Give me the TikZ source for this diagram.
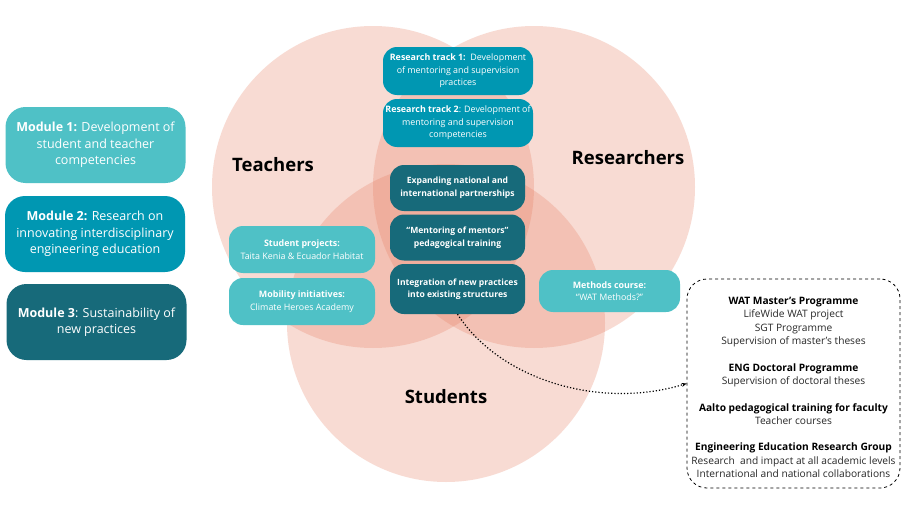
\documentclass[tikz,border=0pt]{standalone}
\usepackage{fontspec}
\setmainfont{Open Sans}
\usetikzlibrary{arrows.meta}
\definecolor{tealA}{HTML}{4FC1C6}
\definecolor{tealB}{HTML}{0097B2}
\definecolor{tealC}{HTML}{176A7A}
\definecolor{venn}{RGB}{232,128,100}
\definecolor{bodytext}{RGB}{40,40,40}
\begin{document}
\begin{tikzpicture}[x=1pt,y=-1pt,
  box/.style={rounded corners=14pt, text=white, align=center, inner sep=0pt},
  modbox/.style={box, rounded corners=20pt, minimum width=180pt, minimum height=76pt, font=\fontsize{12.5}{16.5}\selectfont},
  trackbox/.style={box, fill=tealB, minimum width=150pt, minimum height=48pt, font=\fontsize{8.9}{12.5}\selectfont},
  corebox/.style={box, fill=tealC, minimum width=135pt, minimum height=46pt, font=\bfseries\fontsize{8.6}{12.5}\selectfont},
  sidebox/.style={box, fill=tealA, minimum width=146pt, minimum height=47pt, font=\fontsize{8.9}{12.5}\selectfont},
  circlelabel/.style={font=\bfseries\fontsize{18.5}{20}\selectfont, text=black, inner sep=0pt},
  vennfill/.style={fill=venn, opacity=0.28}
]
\useasboundingbox (0,0) rectangle (914,514);
\fill[white] (0,0) rectangle (914,514);

% Venn circles
\fill[vennfill] (373,187) circle (161pt);
\fill[vennfill] (534,187) circle (161pt);
\fill[vennfill] (446,323) circle (159pt);

% circle labels
\node[circlelabel] (tlab) at (273,165) {Teachers};
\node[circlelabel] (rlab) at (628,158) {Researchers};
\node[circlelabel] (slab) at (446,397) {Students};

% Modules
\node[modbox, fill=tealA] (m1) at (95.5,145) {\textbf{Module 1:} Development of\\ student and teacher\\ competencies};
\node[modbox, fill=tealB] (m2) at (95,234) {\textbf{Module 2:} Research on\\ innovating interdisciplinary\\ engineering education};
\node[modbox, fill=tealC] (m3) at (96.5,322) {\textbf{Module 3}: Sustainability of\\ new practices};

% Research tracks
\node[trackbox] (rt1) at (458,71) {\textbf{Research track 1:}\ \ Development\\ of mentoring and supervision\\ practices};
\node[trackbox] (rt2) at (458,123) {\textbf{Research track 2}: Development of\\ mentoring and supervision\\ competencies};

% Core boxes
\node[corebox] (exp) at (457.5,188) {Expanding national and\\ international partnerships};
\node[corebox] (mom) at (457.5,237.5) {“Mentoring of mentors”\\ pedagogical training};
\node[corebox, minimum height=50pt] (int) at (457.5,289) {Integration of new practices\\ into existing structures};

% Side boxes
\node[sidebox] (sp) at (302,249.5) {\textbf{Student projects:}\\ Taita Kenia \& Ecuador Habitat};
\node[sidebox] (mi) at (302,301.5) {\textbf{Mobility initiatives:}\\ Climate Heroes Academy};
\node[sidebox, minimum width=141pt, minimum height=42pt] (mc) at (609.5,291) {\textbf{Methods course:}\\ “WAT Methods?”};

% Dashed box
\node[draw=black, dashed, line width=0.8pt, rounded corners=20pt, minimum width=213pt, minimum height=209pt, inner sep=0pt] (db) at (793.5,383.5) {};
\node[align=center, text=bodytext, inner sep=0pt, font=\fontsize{10.2}{13.3}\selectfont] (dbtext) at ([yshift=-4pt]db.center)
{\textcolor{black}{\textbf{WAT Master’s Programme}}\\
LifeWide WAT project\\
SGT Programme\\
Supervision of master’s theses\\[13.3pt]
\textcolor{black}{\textbf{ENG Doctoral Programme}}\\
Supervision of doctoral theses\\[13.3pt]
\textcolor{black}{\textbf{Aalto pedagogical training for faculty}}\\
Teacher courses\\[13.3pt]
\textcolor{black}{\textbf{Engineering Education Research Group}}\\
Research\ \ and impact at all academic levels\\
International and national collaborations};

% Dotted connector
\draw[dotted, line width=1.2pt, -{Stealth[length=5pt,width=4pt]}] (int.south) .. controls (500,380) and (600,410) .. (db.west);
\end{tikzpicture}
\end{document}
